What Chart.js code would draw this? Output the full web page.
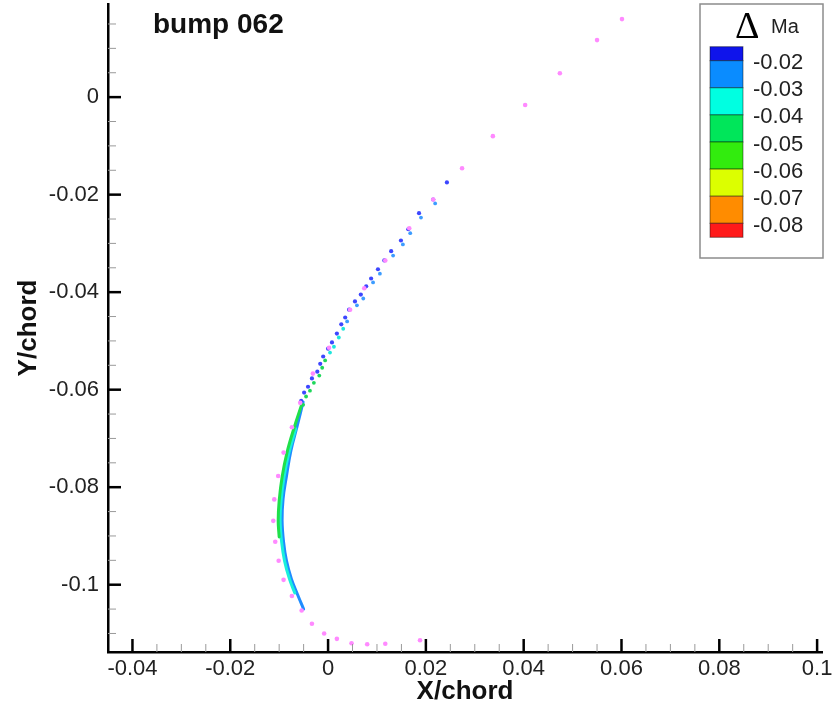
<!DOCTYPE html>
<html>
<head>
<meta charset="utf-8">
<script src="https://cdn.jsdelivr.net/npm/chart.js@4.4.1/dist/chart.umd.min.js"></script>
<style>
  html, body { margin: 0; padding: 0; background: #fff; }
</style>
</head>
<body>
<canvas id="myChart" width="834" height="707"></canvas>
<script>
// axis ticks
var xTicks = [-0.04, -0.02, 0, 0.02, 0.04, 0.06, 0.08, 0.1];
var yTicks = [-0.1, -0.08, -0.06, -0.04, -0.02, 0];

// contour legend (delta Ma)
var levelLabels = ['-0.02', '-0.03', '-0.04', '-0.05', '-0.06', '-0.07', '-0.08'];
var levelColors = ['#0f14eb', '#0a8cff', '#00ffe1', '#00e65a', '#32ec0e', '#dcff00', '#ff8c00', '#ff1a1a'];

// surface points (x/chord, y/chord)
var surfacePts = [
    [0.0601, 0.0160], [0.0550, 0.0117], [0.0474, 0.0049], [0.0403, -0.0016], [0.0337, -0.0080],
    [0.0274, -0.0146], [0.0215, -0.0210], [0.0166, -0.0269], [0.0117, -0.0335], [0.0074, -0.0392],
    [0.0045, -0.0436], [0.0002, -0.0514], [-0.0031, -0.0567], [-0.0057, -0.0627], [-0.0074, -0.0677],
    [-0.0091, -0.0729], [-0.0102, -0.0777], [-0.0110, -0.0825], [-0.0112, -0.0869], [-0.0108, -0.0912],
    [-0.0101, -0.0951], [-0.0091, -0.0990], [-0.0074, -0.1023], [-0.0054, -0.1053], [-0.0033, -0.1080],
    [-0.0008, -0.1100], [0.0018, -0.1111], [0.0048, -0.1120], [0.0080, -0.1122], [0.0117, -0.1121],
    [0.0188, -0.1114]
];

// probe stations, level -0.02
var stationsDark = [
    [0.0243, -0.0175], [0.0215, -0.0210], [0.0186, -0.0238], [0.0164, -0.0271], [0.0149, -0.0294],
    [0.0129, -0.0316], [0.0115, -0.0335], [0.0102, -0.0353], [0.0088, -0.0372], [0.0078, -0.0388],
    [0.0067, -0.0405], [0.0055, -0.0419], [0.0043, -0.0436], [0.0035, -0.0452], [0.0027, -0.0466],
    [0.0018, -0.0485], [0.0008, -0.0503], [0.0000, -0.0516], [-0.0010, -0.0532], [-0.0016, -0.0547],
    [-0.0022, -0.0563], [-0.0033, -0.0577], [-0.0041, -0.0594], [-0.0049, -0.0606], [-0.0055, -0.0623]
];
var stationsBlue = [
    [0.0219, -0.0218], [0.0190, -0.0247], [0.0168, -0.0279], [0.0153, -0.0302], [0.0133, -0.0325],
    [0.0106, -0.0362], [0.0092, -0.0380], [0.0072, -0.0413], [0.0059, -0.0427], [0.0039, -0.0460]
];
var stationsCyan = [
    [0.0031, -0.0475], [0.0022, -0.0493], [0.0012, -0.0512], [0.0004, -0.0524]
];
var stationsGreen = [
    [-0.0006, -0.0540], [-0.0012, -0.0555], [-0.0018, -0.0571], [-0.0029, -0.0586],
    [-0.0037, -0.0602], [-0.0045, -0.0614], [-0.0051, -0.0631]
];

// leading edge bands
var bandBlue = [
    [-0.0051, -0.0625], [-0.0063, -0.0674], [-0.0076, -0.0725], [-0.0085, -0.0777], [-0.0092, -0.0824],
    [-0.0094, -0.0869], [-0.0091, -0.0912], [-0.0085, -0.0951], [-0.0075, -0.0988], [-0.0062, -0.1021],
    [-0.0050, -0.1050]
];
var bandCyan = [
    [-0.0066, -0.0680], [-0.0080, -0.0729], [-0.0090, -0.0779], [-0.0096, -0.0828], [-0.0098, -0.0869],
    [-0.0095, -0.0912], [-0.0089, -0.0951], [-0.0079, -0.0988], [-0.0068, -0.1017]
];
var bandGreen = [
    [-0.0054, -0.0631], [-0.0070, -0.0680], [-0.0084, -0.0729], [-0.0094, -0.0779], [-0.0100, -0.0828],
    [-0.0102, -0.0869], [-0.0100, -0.0902]
];

function toXY(arr) {
    return arr.map(function (p) { return { x: p[0], y: p[1] }; });
}

function fmt(v) {
    return String(+v.toFixed(3));
}

function pointSet(pts, color, r) {
    return {
        data: toXY(pts),
        backgroundColor: color,
        borderWidth: 0,
        pointRadius: r,
        pointHoverRadius: r,
        showLine: false
    };
}

function bandSet(pts, color) {
    return {
        data: toXY(pts),
        borderColor: color,
        borderWidth: 3,
        pointRadius: 0,
        showLine: true,
        tension: 0.4,
        borderCapStyle: 'round'
    };
}

// inward tick marks on both axes
var frameTicks = {
    id: 'frameTicks',
    afterDatasetsDraw: function (chart) {
        var ctx = chart.ctx;
        var xs = chart.scales.x, ys = chart.scales.y;
        var area = chart.chartArea;
        ctx.save();
        var k, px, major;
        for (k = -8; k <= 20; k++) {
            major = (k % 4 === 0);
            px = xs.getPixelForValue(k * 0.005);
            ctx.beginPath();
            ctx.strokeStyle = major ? '#000' : '#9a9a9a';
            ctx.lineWidth = major ? 2.5 : 1;
            ctx.moveTo(px, area.bottom);
            ctx.lineTo(px, area.bottom - (major ? 13 : 8));
            ctx.stroke();
        }
        for (k = -22; k <= 3; k++) {
            major = (k % 4 === 0);
            px = ys.getPixelForValue(k * 0.005);
            ctx.beginPath();
            ctx.strokeStyle = major ? '#000' : '#9a9a9a';
            ctx.lineWidth = major ? 2.5 : 1;
            ctx.moveTo(area.left, px);
            ctx.lineTo(area.left + (major ? 13 : 8), px);
            ctx.stroke();
        }
        ctx.restore();
    }
};

// title and contour legend
var decorations = {
    id: 'decorations',
    afterDraw: function (chart) {
        var ctx = chart.ctx;
        ctx.save();
        ctx.fillStyle = '#111';
        ctx.font = 'bold 28px "Liberation Sans", Arial, sans-serif';
        ctx.textBaseline = 'alphabetic';
        ctx.textAlign = 'left';
        ctx.fillText('bump 062', 153, 33);

        // legend box
        ctx.fillStyle = '#fff';
        ctx.fillRect(700, 4, 123, 254);
        ctx.strokeStyle = '#8c8c8c';
        ctx.lineWidth = 1.5;
        ctx.strokeRect(700, 4, 123, 254);

        ctx.fillStyle = '#000';
        ctx.font = '38px "Liberation Serif", "Times New Roman", serif';
        ctx.fillText('\u0394', 735, 38);
        ctx.fillStyle = '#222';
        ctx.font = '20px "Liberation Sans", Arial, sans-serif';
        ctx.fillText('Ma', 771, 33);

        var top = 46.7, first = 14, step = 27.1, x0 = 710, w = 33;
        var y = top;
        for (var i = 0; i < levelColors.length; i++) {
            var h = (i === 0 || i === levelColors.length - 1) ? first : step;
            ctx.fillStyle = levelColors[i];
            ctx.fillRect(x0, y, w, h);
            ctx.strokeStyle = 'rgba(0,0,0,0.45)';
            ctx.lineWidth = 1;
            ctx.strokeRect(x0, y, w, h);
            y += h;
        }
        ctx.fillStyle = '#222';
        ctx.font = '22px "Liberation Sans", Arial, sans-serif';
        ctx.textBaseline = 'middle';
        for (var j = 0; j < levelLabels.length; j++) {
            ctx.fillText(levelLabels[j], 753, top + first + j * step + 2.5);
        }
        ctx.restore();
    }
};

var ctx = document.getElementById('myChart').getContext('2d');
var myChart = new Chart(ctx, {
    type: 'scatter',
    data: {
        datasets: [
            pointSet(surfacePts, '#ff8aff', 2.3),
            pointSet(stationsDark, '#3c46ff', 2.1),
            pointSet(stationsBlue, '#3c9cff', 1.9),
            pointSet(stationsCyan, '#1ee6dc', 1.9),
            pointSet(stationsGreen, '#1ed75a', 1.9),
            bandSet(bandGreen, '#1fe04a'),
            bandSet(bandCyan, '#19f0dc'),
            bandSet(bandBlue, '#1e8cff')
        ]
    },
    options: {
        responsive: false,
        animation: false,
        devicePixelRatio: 1,
        layout: { padding: { top: 4, right: 12, left: 0, bottom: 0 } },
        plugins: {
            legend: { display: false },
            tooltip: { enabled: false }
        },
        scales: {
            x: {
                type: 'linear',
                min: -0.045,
                max: 0.101,
                afterBuildTicks: function (scale) {
                    scale.ticks = xTicks.map(function (v) { return { value: v }; });
                },
                afterFit: function (scale) {
                    scale.height = 55;
                    scale.paddingLeft = 0;
                    scale.paddingRight = 0;
                },
                grid: { display: false, drawTicks: false },
                border: { display: true, color: '#000', width: 2.5 },
                ticks: {
                    autoSkip: false,
                    maxRotation: 0,
                    padding: 4,
                    color: '#222',
                    font: { family: '"Liberation Sans", Arial, sans-serif', size: 22 },
                    callback: function (v) { return fmt(v); }
                },
                title: {
                    display: true,
                    text: 'X/chord',
                    color: '#111',
                    padding: { top: 0, bottom: 0 },
                    font: { family: '"Liberation Sans", Arial, sans-serif', size: 26, weight: 'bold' }
                }
            },
            y: {
                type: 'linear',
                min: -0.1138,
                max: 0.0191,
                afterBuildTicks: function (scale) {
                    scale.ticks = yTicks.map(function (v) { return { value: v }; });
                },
                afterFit: function (scale) {
                    scale.width = 108;
                    scale.paddingTop = 0;
                    scale.paddingBottom = 0;
                },
                grid: { display: false, drawTicks: false },
                border: { display: true, color: '#000', width: 2.5 },
                ticks: {
                    autoSkip: false,
                    padding: 9,
                    color: '#222',
                    font: { family: '"Liberation Sans", Arial, sans-serif', size: 22 },
                    callback: function (v) { return fmt(v); }
                },
                title: {
                    display: true,
                    text: 'Y/chord',
                    color: '#111',
                    padding: { top: 13, bottom: 0 },
                    font: { family: '"Liberation Sans", Arial, sans-serif', size: 26, weight: 'bold' }
                }
            }
        }
    },
    plugins: [frameTicks, decorations]
});
</script>
</body>
</html>
